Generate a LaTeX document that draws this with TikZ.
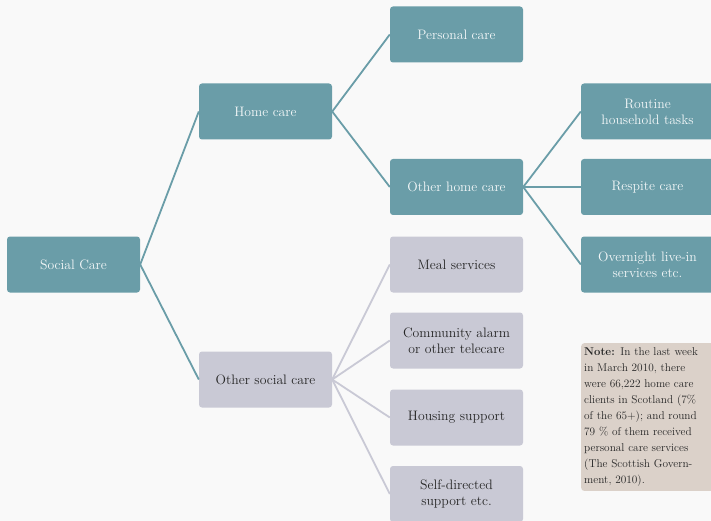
\documentclass[tikz,border=0pt]{standalone}
\usepackage{xcolor}
\definecolor{bg}{HTML}{F9F9F9}
\definecolor{teal1}{HTML}{6A9DA8}
\definecolor{gray1}{HTML}{C9C9D5}
\definecolor{notebg}{HTML}{DBD1C9}
\begin{document}
\begin{tikzpicture}[x=1pt,y=-1pt,
  box/.style={rounded corners=3pt,minimum width=133pt,minimum height=56pt,inner sep=2pt,align=center,font=\fontsize{13.7}{16}\selectfont},
  tbox/.style={box,fill=teal1,text=white!92!teal1},
  gbox/.style={box,fill=gray1,text=black!85},
  tline/.style={draw=teal1,line width=1.8pt},
  gline/.style={draw=gray1,line width=1.8pt}]
\fill[bg] (0,0) rectangle (711,521);
\useasboundingbox (0,0) rectangle (711,521);
\node[tbox] (sc) at (73.5,264.5) {Social Care};
\node[tbox] (hc) at (265.5,111.5) {Home care};
\node[gbox] (osc) at (265.5,379.5) {Other social care};
\node[tbox] (pc) at (456.5,34.5) {Personal care};
\node[tbox] (ohc) at (456.5,187) {Other home care};
\node[gbox] (ms) at (456.5,264.5) {Meal services};
\node[gbox] (ca) at (456.5,340.5) {Community alarm\\or other telecare};
\node[gbox] (hs) at (456.5,417.5) {Housing support};
\node[gbox] (sd) at (456.5,494) {Self-directed\\support etc.};
\node[tbox] (rh) at (647.5,111.5) {Routine\\household tasks};
\node[tbox] (rc) at (647.5,187) {Respite care};
\node[tbox] (ov) at (647.5,264.5) {Overnight live-in\\services etc.};
\node[fill=notebg,rounded corners=3pt,anchor=north west,inner xsep=3pt,inner ysep=4.5pt,text width=127pt,align=left,
  font=\fontsize{11.3}{16}\selectfont,text=black!85] (note) at (581,343)
  {\textbf{Note:} In the last week\\in March 2010, there\\were 66,222 home care\\clients in Scotland (7\%\\of the 65+); and round\\79 \% of them received\\personal care services\\(The Scottish Govern-\\ment, 2010).};
\draw[tline] (sc.east) -- (hc.west);
\draw[tline] (sc.east) -- (osc.west);
\draw[tline] (hc.east) -- (pc.west);
\draw[tline] (hc.east) -- (ohc.west);
\draw[tline] (ohc.east) -- (rh.west);
\draw[tline] (ohc.east) -- (rc.west);
\draw[tline] (ohc.east) -- (ov.west);
\draw[gline] (osc.east) -- (ms.west);
\draw[gline] (osc.east) -- (ca.west);
\draw[gline] (osc.east) -- (hs.west);
\draw[gline] (osc.east) -- (sd.west);
\end{tikzpicture}
\end{document}
